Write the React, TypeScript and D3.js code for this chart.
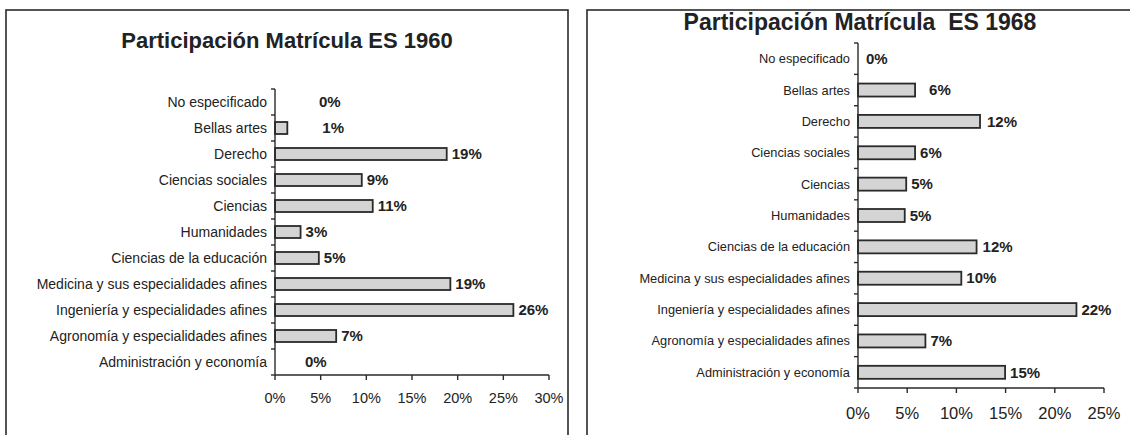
import React from 'react';
import * as d3 from 'd3';

const categories = [
  'No especificado',
  'Bellas artes',
  'Derecho',
  'Ciencias sociales',
  'Ciencias',
  'Humanidades',
  'Ciencias de la educación',
  'Medicina y sus especialidades afines',
  'Ingeniería y especialidades afines',
  'Agronomía y especialidades afines',
  'Administración y economía',
];

// shares (percent)
const values1960 = [0, 1.35, 18.8, 9.5, 10.7, 2.8, 4.8, 19.2, 26.1, 6.7, 0];
const labels1960 = ['0%', '1%', '19%', '9%', '11%', '3%', '5%', '19%', '26%', '7%', '0%'];
const values1968 = [0, 5.8, 12.4, 5.8, 4.9, 4.75, 12.05, 10.5, 22.2, 6.85, 14.95];
const labels1968 = ['0%', '6%', '12%', '6%', '5%', '5%', '12%', '10%', '22%', '7%', '15%'];

const ticks1960 = [0, 5, 10, 15, 20, 25, 30];
const ticks1968 = [0, 5, 10, 15, 20, 25];

// extra horizontal shift of some value labels, as placed in the original
const labelNudge1960 = [39, 30, 0, 0, 0, 0, 0, 0, 0, 0, 25];
const labelNudge1968 = [3, 9, 2, 0, 0, 0, 1, 0, 0, 0, 0];

const FONT = 'Arial, "Liberation Sans", Helvetica, sans-serif';
const TEXT = '#222';
const LINE = '#2a2a2a';

interface PanelProps {
  title: string;
  titleX: number;
  titleY: number;
  titleSize: number;
  frame: { x: number; y: number; w: number; h: number };
  x0: number;
  x1: number;
  y0: number;
  y1: number;
  maxV: number;
  values: number[];
  labels: string[];
  ticks: number[];
  nudge: number[];
  barH: number;
  catSize: number;
  tickSize: number;
  tickBelow: number;
}

const Panel: React.FC<PanelProps> = (p) => {
  const x = d3.scaleLinear().domain([0, p.maxV]).range([p.x0, p.x1]);
  const n = categories.length;
  const step = (p.y1 - p.y0) / n;
  const pad = 1 - p.barH / step;
  const y = d3
    .scaleBand<string>()
    .domain(categories)
    .range([p.y0, p.y1])
    .paddingInner(pad)
    .paddingOuter(pad / 2);
  const boundaries = d3.range(n + 1).map((i) => p.y0 + i * step);

  return (
    <g>
      <rect
        x={p.frame.x}
        y={p.frame.y}
        width={p.frame.w}
        height={p.frame.h}
        fill="#fff"
        stroke={LINE}
        strokeWidth={1.6}
      />
      <text
        x={p.titleX}
        y={p.titleY}
        textAnchor="middle"
        fontFamily={FONT}
        fontWeight="bold"
        fontSize={p.titleSize}
        fill={TEXT}
        style={{ whiteSpace: 'pre' }}
      >
        {p.title}
      </text>

      {/* bars */}
      {categories.map((c, i) => (
        <rect
          key={'b' + i}
          x={x(0)}
          y={y(c)!}
          width={Math.max(0, x(p.values[i]) - x(0))}
          height={y.bandwidth()}
          fill={p.values[i] > 0 ? '#d4d4d4' : 'none'}
          stroke={p.values[i] > 0 ? LINE : 'none'}
          strokeWidth={1.8}
        />
      ))}

      {/* category axis */}
      <line x1={p.x0} x2={p.x0} y1={p.y0} y2={p.y1} stroke={LINE} strokeWidth={1.4} />
      {boundaries.map((b, i) => (
        <line key={'yt' + i} x1={p.x0 - 4} x2={p.x0} y1={b} y2={b} stroke={LINE} strokeWidth={1.4} />
      ))}
      {categories.map((c, i) => (
        <text
          key={'c' + i}
          x={p.x0 - 8}
          y={y(c)! + y.bandwidth() / 2}
          dy="0.35em"
          textAnchor="end"
          fontFamily={FONT}
          fontSize={p.catSize}
          fill={TEXT}
        >
          {c}
        </text>
      ))}

      {/* value axis */}
      <line x1={p.x0} x2={p.x1} y1={p.y1} y2={p.y1} stroke={LINE} strokeWidth={1.4} />
      {p.ticks.map((t) => (
        <g key={'xt' + t}>
          <line x1={x(t)} x2={x(t)} y1={p.y1} y2={p.y1 + 5} stroke={LINE} strokeWidth={1.4} />
          <text
            x={x(t)}
            y={p.y1 + p.tickBelow}
            textAnchor="middle"
            fontFamily={FONT}
            fontSize={p.tickSize}
            fill={TEXT}
          >
            {t + '%'}
          </text>
        </g>
      ))}

      {/* value labels */}
      {categories.map((c, i) => (
        <text
          key={'l' + i}
          x={x(p.values[i]) + 5 + p.nudge[i]}
          y={y(c)! + y.bandwidth() / 2}
          dy="0.35em"
          fontFamily={FONT}
          fontWeight="bold"
          fontSize={15}
          fill={TEXT}
        >
          {p.labels[i]}
        </text>
      ))}
    </g>
  );
};

const App: React.FC = () => {
  const width = 1130;
  const height = 435;
  return (
    <svg
      width={width}
      height={height}
      style={{ position: 'absolute', left: 0, top: 0, background: '#fff' }}
    >
      <rect width={width} height={height} fill="#fff" />
      <Panel
        title="Participación Matrícula ES 1960"
        titleX={287}
        titleY={48}
        titleSize={22}
        frame={{ x: 6, y: 10, w: 562, h: 500 }}
        x0={275}
        x1={549}
        y0={89}
        y1={375}
        maxV={30}
        values={values1960}
        labels={labels1960}
        ticks={ticks1960}
        nudge={labelNudge1960}
        barH={12}
        catSize={14}
        tickSize={14.5}
        tickBelow={28}
      />
      <Panel
        title="Participación Matrícula  ES 1968"
        titleX={860}
        titleY={30}
        titleSize={23}
        frame={{ x: 587, y: 10, w: 600, h: 500 }}
        x0={858}
        x1={1104}
        y0={43}
        y1={388}
        maxV={25}
        values={values1968}
        labels={labels1968}
        ticks={ticks1968}
        nudge={labelNudge1968}
        barH={13}
        catSize={12.8}
        tickSize={16.5}
        tickBelow={31}
      />
    </svg>
  );
};

export default App;
